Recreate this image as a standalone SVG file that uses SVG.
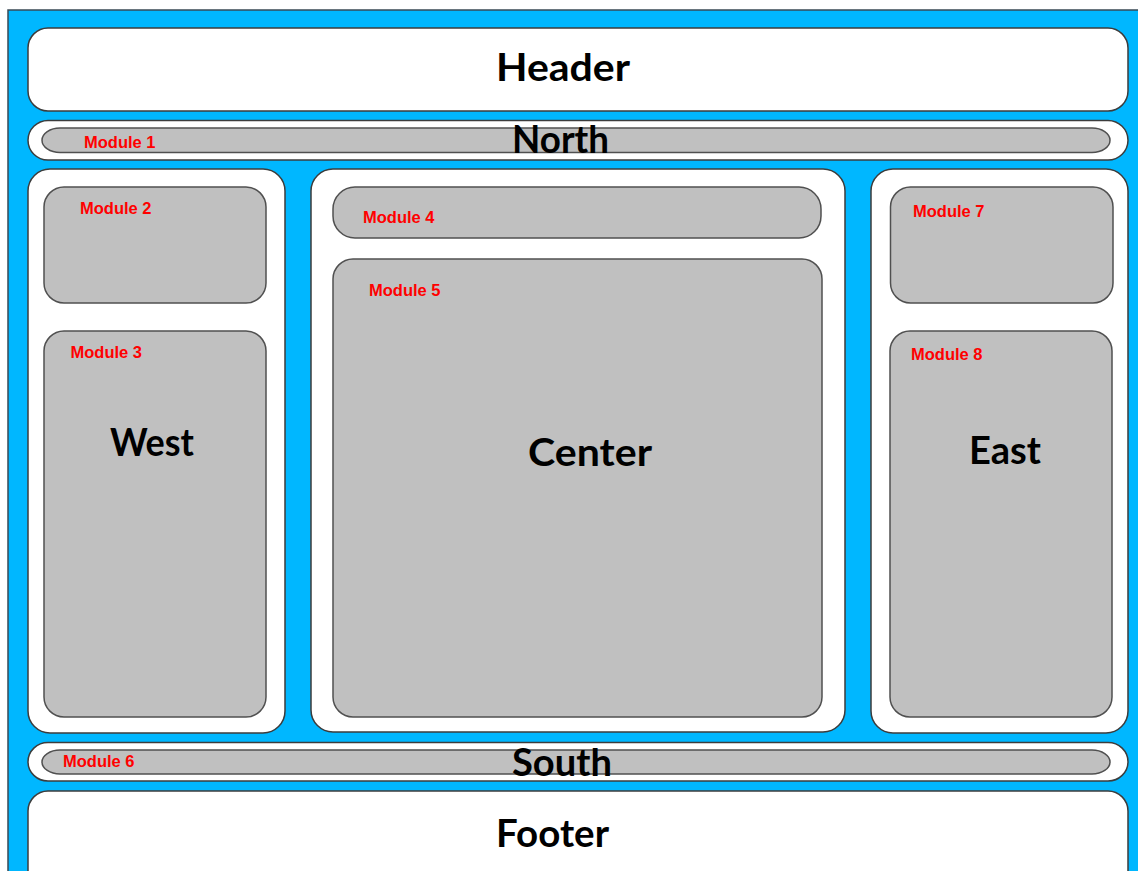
<svg xmlns="http://www.w3.org/2000/svg" width="1138" height="871" viewBox="0 0 1138 871">
<style>
.bg{fill:#00B7FF;stroke:#3a4a55;stroke-width:1.5}
.panel{fill:#ffffff;stroke:#3c3c3c;stroke-width:1.5}
.mod{fill:#c0c0c0;stroke:#505050;stroke-width:1.5}
.title{font-family:Lato,"DejaVu Sans",sans-serif;font-weight:bold;font-size:38px;fill:#000;text-anchor:start}
.ml{font-family:"Liberation Sans",Arial,sans-serif;font-weight:bold;font-size:16.5px;fill:#ff0000}
</style>
<rect x="0" y="0" width="1138" height="871" fill="#ffffff"/>
<rect class="bg" x="8" y="10" width="1140" height="880"/>
<g id="header">
<rect class="panel" x="28" y="28" width="1100" height="83" rx="20" ry="20"/>
<text class="title" x="496" y="81" textLength="134" lengthAdjust="spacingAndGlyphs">Header</text>
</g>
<g id="north">
<rect class="panel" x="28" y="120.5" width="1100" height="39.5" rx="20" ry="19.75"/>
<rect id="module1" class="mod" x="42" y="128" width="1068" height="24.5" rx="18" ry="12.25"/>
<text class="ml" x="84" y="148">Module 1</text>
<text class="title" x="512" y="153" textLength="97" lengthAdjust="spacingAndGlyphs">North</text>
</g>
<g id="west">
<rect class="panel" x="28" y="169" width="257" height="564" rx="22" ry="22"/>
<rect id="module2" class="mod" x="44" y="187" width="222" height="116" rx="20" ry="20"/>
<text class="ml" x="80" y="214">Module 2</text>
<rect id="module3" class="mod" x="44" y="331" width="222" height="386" rx="20" ry="20"/>
<text class="ml" x="70.5" y="358">Module 3</text>
<text class="title" x="110" y="456" textLength="84" lengthAdjust="spacingAndGlyphs">West</text>
</g>
<g id="center">
<rect class="panel" x="311" y="169" width="534" height="563" rx="22" ry="22"/>
<rect id="module4" class="mod" x="333" y="187" width="488" height="51" rx="22" ry="22"/>
<text class="ml" x="363" y="223">Module 4</text>
<rect id="module5" class="mod" x="333" y="259" width="489" height="458" rx="20" ry="20"/>
<text class="ml" x="369" y="295.5">Module 5</text>
<text class="title" x="528" y="466" textLength="124" lengthAdjust="spacingAndGlyphs">Center</text>
</g>
<g id="east">
<rect class="panel" x="871" y="169" width="257" height="564" rx="22" ry="22"/>
<rect id="module7" class="mod" x="890.5" y="187" width="222.5" height="116" rx="20" ry="20"/>
<text class="ml" x="913" y="216.5">Module 7</text>
<rect id="module8" class="mod" x="890" y="331" width="222" height="386" rx="20" ry="20"/>
<text class="ml" x="911" y="360">Module 8</text>
<text class="title" x="969" y="464" textLength="72" lengthAdjust="spacingAndGlyphs">East</text>
</g>
<g id="south">
<rect class="panel" x="28" y="742.5" width="1100" height="38.5" rx="20" ry="19.25"/>
<rect id="module6" class="mod" x="42" y="750" width="1068" height="24" rx="18" ry="12"/>
<text class="ml" x="63" y="767">Module 6</text>
<text class="title" x="512" y="776" textLength="100" lengthAdjust="spacingAndGlyphs">South</text>
</g>
<g id="footer">
<rect class="panel" x="28" y="791" width="1100" height="100" rx="20" ry="20"/>
<text class="title" x="496" y="847" textLength="113" lengthAdjust="spacingAndGlyphs">Footer</text>
</g>
<g id="connectors"/>
</svg>
